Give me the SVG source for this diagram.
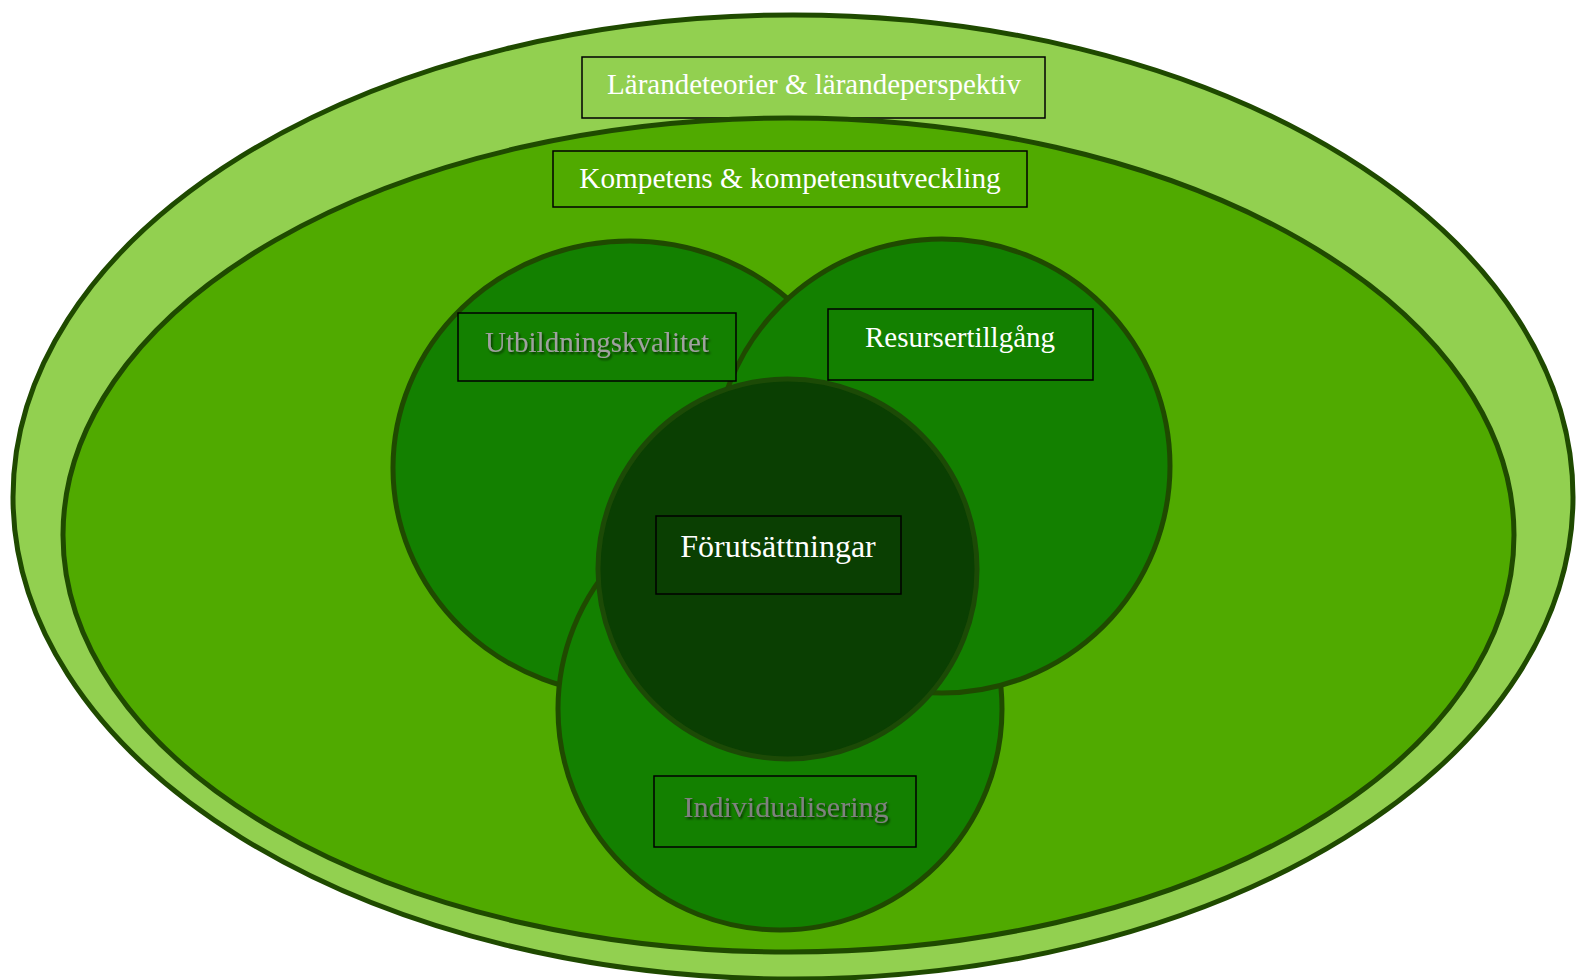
<svg xmlns="http://www.w3.org/2000/svg" width="1576" height="980" viewBox="0 0 1576 980">
  <defs>
    <filter id="shadow" x="-10%" y="-30%" width="120%" height="160%">
      <feDropShadow dx="1.5" dy="2" stdDeviation="1.2" flood-color="#000" flood-opacity="0.6"/>
    </filter>
  </defs>
  <style>
    .ring { stroke: #1f4a00; stroke-width: 5; }
    .outer { fill: #92d050; }
    .inner { fill: #50aa00; }
    .area { fill: #138000; }
    .core { fill: #0a3f02; stroke: #1c4a06; stroke-width: 5; }
    .box { stroke: #000; stroke-width: 1.5; }
    .lbl { font-family: "Liberation Serif", "Times New Roman", serif; text-anchor: middle; fill: #ffffff; }
    .muted { fill: #a0a0a0; filter: url(#shadow); }
    .dim { fill: #808080; filter: url(#shadow); }
  </style>

  <!-- outer frame: learning theories -->
  <g id="larandeteorier">
    <ellipse class="ring outer" cx="793" cy="497" rx="780" ry="482"/>
    <rect class="box" x="582" y="57" width="463" height="61" fill="#92d050"/>
    <text class="lbl" x="814" y="94" font-size="29">Lärandeteorier &amp; lärandeperspektiv</text>
  </g>

  <!-- competence layer -->
  <g id="kompetens">
    <ellipse class="ring inner" cx="788.5" cy="535" rx="725.5" ry="417"/>
    <rect class="box" x="553" y="151" width="474" height="56" fill="#50aa00"/>
    <text class="lbl" x="790" y="188" font-size="29.3">Kompetens &amp; kompetensutveckling</text>
  </g>

  <!-- three overlapping areas -->
  <g id="utbildningskvalitet">
    <ellipse class="ring area" cx="630" cy="468" rx="237" ry="227"/>
  </g>
  <g id="individualisering">
    <ellipse class="ring area" cx="780" cy="709" rx="222" ry="221"/>
  </g>
  <g id="resursertillgang">
    <ellipse class="ring area" cx="942" cy="466" rx="228" ry="227"/>
  </g>

  <!-- core -->
  <g id="forutsattningar">
    <ellipse class="core" cx="787.5" cy="569" rx="189.5" ry="190"/>
    <rect class="box" x="656" y="516" width="245" height="78" fill="#0a3f02"/>
    <text class="lbl" x="778" y="557" font-size="32">Förutsättningar</text>
  </g>

  <!-- area labels -->
  <g id="utbildningskvalitet-label">
    <rect class="box" x="458" y="313" width="278" height="68" fill="#138000"/>
    <text class="lbl muted" x="597" y="352" font-size="29">Utbildningskvalitet</text>
  </g>
  <g id="resursertillgang-label">
    <rect class="box" x="828" y="309" width="265" height="71" fill="#138000"/>
    <text class="lbl" x="960" y="347" font-size="29">Resursertillgång</text>
  </g>
  <g id="individualisering-label">
    <rect class="box" x="654" y="776" width="262" height="71" fill="#138000"/>
    <text class="lbl dim" x="786" y="817" font-size="30">Individualisering</text>
  </g>

  <g id="connectors"/>
</svg>
